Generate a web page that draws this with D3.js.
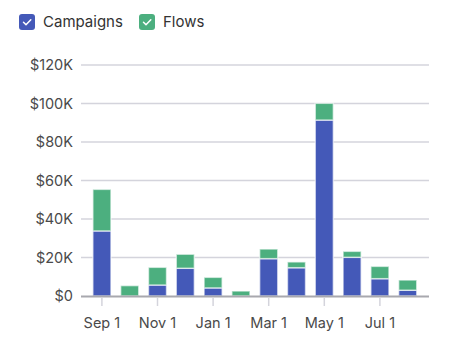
<!DOCTYPE html>
<html><head><meta charset="utf-8">
<script src="https://cdn.jsdelivr.net/npm/d3@7"></script>
<style>
body{margin:0;background:#fff;font-family:Inter,"Open Sans",sans-serif;}
</style></head>
<body><svg id="c" width="453" height="347"></svg>
<script>
const months = ["Sep","Oct","Nov","Dec","Jan","Feb","Mar","Apr","May","Jun","Jul","Aug"];
const campaigns = [33.8,0,5.7,14.4,4.2,0,19.4,14.7,91.4,20.1,9.0,3.0];
const flows = [21.6,5.4,9.2,7.3,5.5,2.6,5.0,3.0,8.7,3.1,6.4,5.3];
const yTicks = [0,20,40,60,80,100,120];
const xTickLabels = {"Sep":"Sep 1","Nov":"Nov 1","Jan":"Jan 1","Mar":"Mar 1","May":"May 1","Jul":"Jul 1"};
const seriesNames = ["Campaigns","Flows"];
const colors = ["#4459b8","#4caf7f"];

const svg = d3.select("#c");
const x = d3.scaleBand().domain(months).range([88,421.6]).paddingInner(0.35).paddingOuter(0.175);
const y = d3.scaleLinear().domain([0,120]).range([296,65]);

// grid
svg.append("g").selectAll("line").data(yTicks.filter(d=>d>0)).join("line")
  .attr("x1",81).attr("x2",429).attr("y1",d=>y(d)).attr("y2",d=>y(d))
  .attr("stroke","#d4d4dc").attr("stroke-width",1.5);

// y labels
svg.append("g").selectAll("text").data(yTicks).join("text")
  .attr("x",73).attr("y",d=>y(d)).attr("dy","0.36em").attr("text-anchor","end")
  .attr("font-size",14.5).attr("fill","#4a4a4a").text(d=>d===0?"$0":"$"+d+"K");

// stacked bars
const rows = months.map((m,i)=>({m, Campaigns:campaigns[i], Flows:flows[i]}));
const stack = d3.stack().keys(seriesNames)(rows);
stack.forEach((s,si)=>{
  svg.append("g").selectAll("rect").data(s.filter(d=>d[1]-d[0]>0)).join("rect")
    .attr("x",d=>x(d.data.m)).attr("width",x.bandwidth())
    .attr("y",d=>y(d[1])).attr("height",d=>y(d[0])-y(d[1]))
    .attr("fill",colors[si]).attr("stroke","#fff").attr("stroke-opacity",0.6).attr("stroke-width",1.5);
});

// x axis
svg.append("line").attr("x1",81).attr("x2",429).attr("y1",296.5).attr("y2",296.5).attr("stroke","#a8a8ae").attr("stroke-width",2);
const tm = months.filter(m=>xTickLabels[m]);
svg.append("g").selectAll("line").data(tm).join("line")
  .attr("x1",d=>x(d)+x.bandwidth()/2).attr("x2",d=>x(d)+x.bandwidth()/2)
  .attr("y1",298).attr("y2",306).attr("stroke","#d4d4dc").attr("stroke-width",1.5);
svg.append("g").selectAll("text").data(tm).join("text")
  .attr("x",d=>x(d)+x.bandwidth()/2).attr("y",328).attr("text-anchor","middle")
  .attr("font-size",14.5).attr("fill","#4a4a4a").text(d=>xTickLabels[d]);

// legend
const legX = [19,139];
const lg = svg.append("g").selectAll("g").data(seriesNames).join("g")
  .attr("transform",(d,i)=>`translate(${legX[i]},14)`);
lg.append("rect").attr("width",16).attr("height",16).attr("rx",3).attr("fill",(d,i)=>colors[i]);
lg.append("path").attr("d","M4.5,8.3 L7,10.8 L11.8,5.8").attr("fill","none").attr("stroke","#fff").attr("stroke-width",1.5).attr("stroke-linecap","round").attr("stroke-linejoin","round");
lg.append("text").attr("x",24).attr("y",13).attr("font-size",15).attr("fill","#333").text(d=>d);
</script></body></html>
